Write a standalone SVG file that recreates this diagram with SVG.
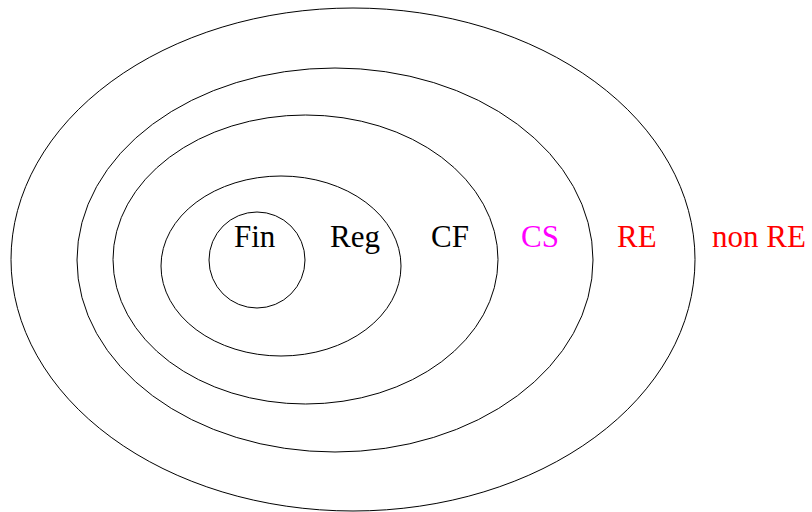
<svg xmlns="http://www.w3.org/2000/svg" width="812" height="512" viewBox="0 0 812 512">
<style>
.s{fill:none;stroke:#000;stroke-width:1}
.t{font-family:"Liberation Serif","Times New Roman",serif;font-size:31px}
</style>
<rect width="812" height="512" fill="#fff"/>
<g id="RE">
<ellipse class="s" cx="353" cy="259.5" rx="342" ry="251.5"/>
<text class="t" x="617" y="247" fill="#ff0000">RE</text>
</g>
<g id="CS">
<ellipse class="s" cx="335" cy="260" rx="258" ry="192"/>
<text class="t" x="521" y="247" fill="#ff00ff">CS</text>
</g>
<g id="CF">
<ellipse class="s" cx="305.5" cy="259.5" rx="192.5" ry="144.5"/>
<text class="t" x="431" y="247" fill="#000">CF</text>
</g>
<g id="Reg">
<ellipse class="s" cx="281" cy="266" rx="120" ry="90"/>
<text class="t" x="330" y="247" fill="#000">Reg</text>
</g>
<g id="Fin">
<circle class="s" cx="257" cy="260" r="48"/>
<text class="t" x="234" y="247" fill="#000">Fin</text>
</g>
<g id="nonRE">
<text class="t" x="712" y="247" fill="#ff0000">non RE</text>
</g>
<g id="connectors"/>
</svg>
